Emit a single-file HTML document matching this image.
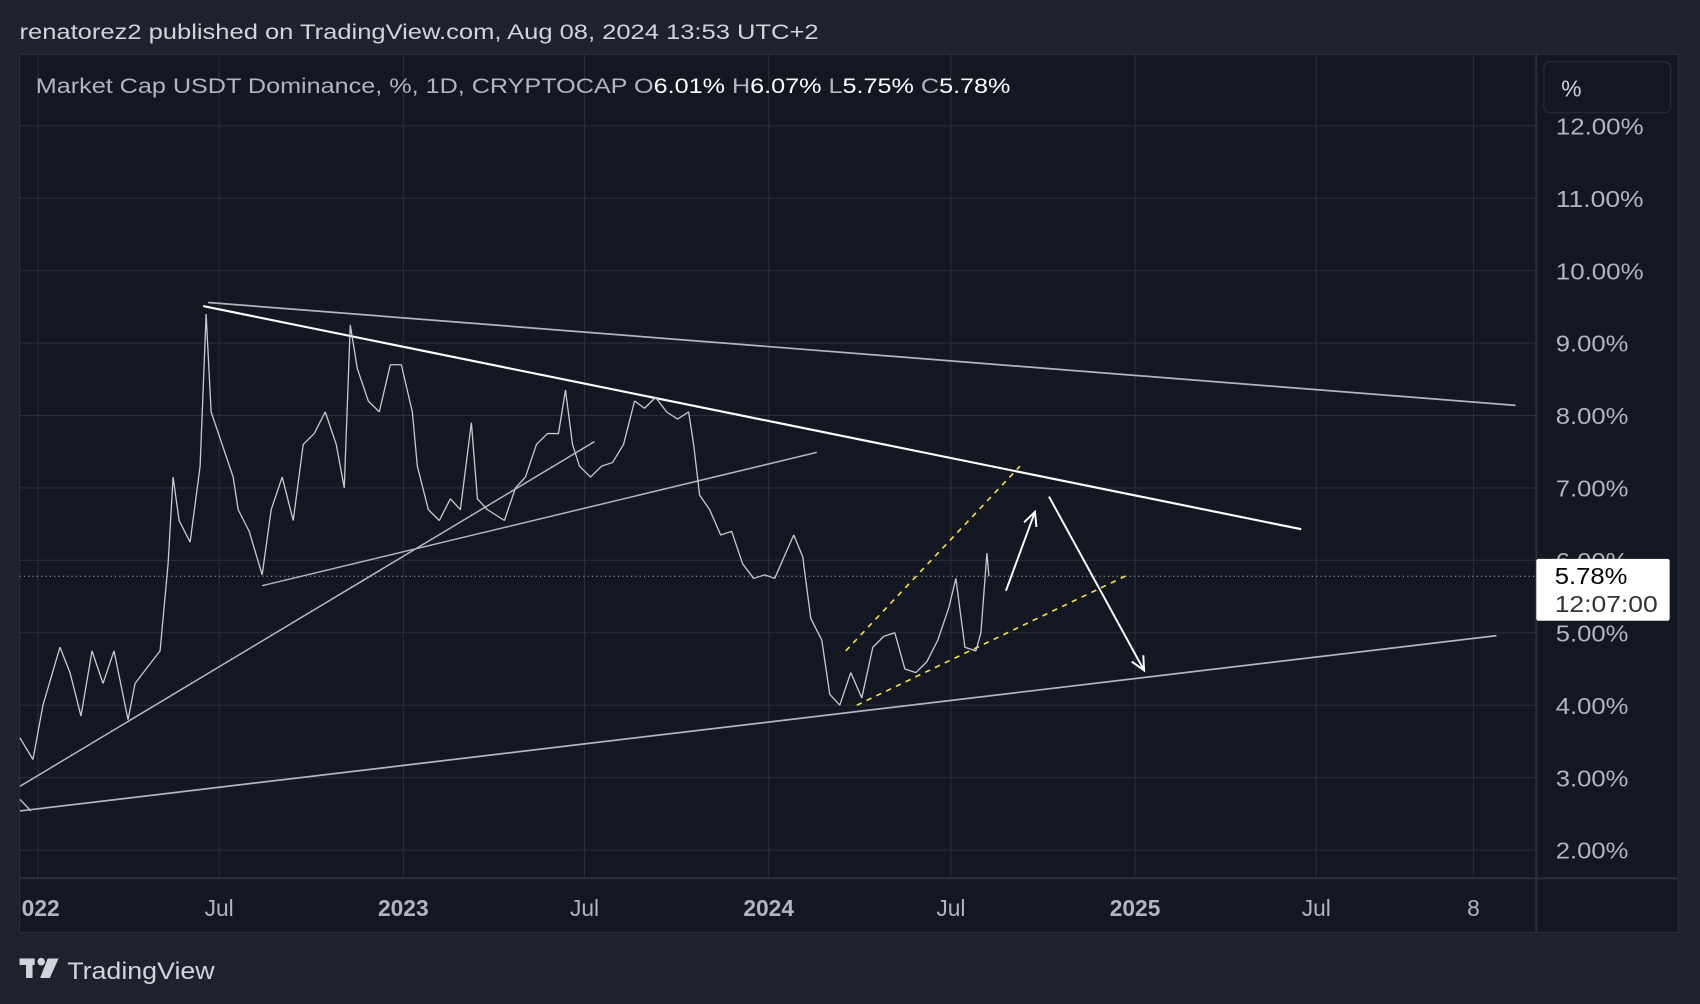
<!DOCTYPE html>
<html><head><meta charset="utf-8"><style>
html,body{margin:0;padding:0;background:#1e222d;}
svg{display:block;font-family:"Liberation Sans",sans-serif;}
</style></head><body>
<svg id="c" width="1700" height="1004" viewBox="0 0 1568 926" preserveAspectRatio="none" xmlns="http://www.w3.org/2000/svg">
<rect x="0" y="0" width="1568" height="926" fill="#1e222d"/>
<rect x="18" y="50" width="1530" height="810" fill="#131722" stroke="#2a2e39"/>
<line x1="1417" y1="50" x2="1417" y2="860" stroke="#2a2e39" stroke-width="2"/>
<line x1="18" y1="810" x2="1548" y2="810" stroke="#2a2e39" stroke-width="2"/>
<g id="grid"></g>
<g id="draw"></g>
<g id="series"></g>
<g id="axes"></g>
<rect x="1418" y="51" width="129" height="58" fill="#131722"/>
<text x="18" y="36" fill="#d1d4dc" font-size="20" textLength="737" lengthAdjust="spacingAndGlyphs">renatorez2 published on TradingView.com, Aug 08, 2024 13:53 UTC+2</text>
<text x="33" y="86" font-size="20" fill="#b2b5be" textLength="899" lengthAdjust="spacingAndGlyphs">Market Cap USDT Dominance, %, 1D, CRYPTOCAP  O<tspan fill="#fff">6.01%</tspan>  H<tspan fill="#fff">6.07%</tspan>  L<tspan fill="#fff">5.75%</tspan>  C<tspan fill="#fff">5.78%</tspan></text>
<rect x="1424" y="57" width="117" height="47" rx="6" fill="#131722" stroke="#2a2e39"/>
<text x="1440" y="89" font-size="21" fill="#d1d4dc">%</text>
<g fill="#d1d4dc">
<rect x="18" y="884" width="14" height="6"/><rect x="24" y="884" width="6" height="18"/>
<circle cx="38" cy="887" r="3.5"/><path d="M44 884 L54 884 L46 902 L37 902 Z"/>
</g>
<text x="62" y="903" font-size="22" fill="#d1d4dc" textLength="136" lengthAdjust="spacingAndGlyphs">TradingView</text>
</svg>
<script>
const days=[-18,-5,5,22,32,43,54,65,76,90,97,108,122,130,135,141,152,162,168,173,184,195,200,211,224,233,244,255,265,276,287,298,306,312,319,330,341,352,363,374,379,390,401,412,422,433,439,449,466,477,487,498,509,520,527,534,541,552,563,574,585,596,606,617,628,639,650,655,661,671,682,693,704,715,726,736,747,755,764,772,783,791,801,812,823,834,845,856,866,877,888,899,910,917,926,937,942,948,950];
const values=[3.55,3.25,4.0,4.8,4.45,3.85,4.75,4.3,4.75,3.8,4.3,4.5,4.75,5.95,7.15,6.55,6.25,7.3,9.4,8.05,7.6,7.15,6.7,6.4,5.8,6.7,7.15,6.55,7.6,7.75,8.05,7.6,7.0,9.25,8.65,8.2,8.05,8.7,8.7,8.05,7.3,6.7,6.55,6.85,6.7,7.9,6.85,6.7,6.55,7.0,7.15,7.6,7.75,7.75,8.35,7.6,7.3,7.15,7.3,7.35,7.6,8.2,8.1,8.25,8.05,7.95,8.05,7.6,6.9,6.7,6.35,6.4,5.95,5.75,5.8,5.75,6.1,6.35,6.05,5.2,4.9,4.15,4.0,4.45,4.1,4.8,4.95,5.0,4.5,4.45,4.6,4.9,5.35,5.75,4.8,4.75,5.0,6.1,5.78];
const yTicks=[2,3,4,5,6,7,8,9,10,11,12];
const xTickDays=[0,181,365,546,730,912,1096,1277,1434];
const xTickLabels=["022","Jul","2023","Jul","2024","Jul","2025","Jul","8"];
const xTickBold=[true,false,true,false,true,false,true,false,false];
const lastValue=5.78;
const NS="http://www.w3.org/2000/svg";
const X=d=>35+d*0.9233, Y=v=>784-(v-2)*66.8;
function mk(tag,attrs,parent){const e=document.createElementNS(NS,tag);for(const k in attrs)e.setAttribute(k,attrs[k]);document.getElementById(parent).appendChild(e);return e;}
yTicks.forEach(v=>{
  const l=mk('line',{x1:18,x2:1417,y1:Y(v),y2:Y(v),stroke:'#2a2e39','stroke-width':1},'grid');
  
  
  const s=v.toFixed(2)+'%';
  const t=mk('text',{x:1435,y:Y(v)+8,'font-size':21,fill:'#b2b5be',textLength:s.length==6?81:67,lengthAdjust:'spacingAndGlyphs'},'axes');
  t.textContent=s;
  
  
});
xTickDays.forEach((d,i)=>{
  if(X(d)>18){const l=mk('line',{x1:X(d),x2:X(d),y1:50,y2:810,stroke:'#2a2e39','stroke-width':1},'grid');
  
  }
  const t=mk('text',{x:i==0?20:X(d),y:845,'font-size':21,fill:'#b2b5be','text-anchor':i==0?'start':'middle','font-weight':xTickBold[i]?'bold':'normal'},'axes');
  t.textContent=xTickLabels[i];
  
  
});
const pts=days.map((d,i)=>X(d)+','+Y(values[i])).join(' ');
const pl=mk('polyline',{points:pts,fill:'none',stroke:'#c8cad0','stroke-width':1.2,'stroke-linejoin':'bevel'},'series');


const trendLines=[
 [[170,9.56],[1476,8.14],'#b2b5be',1.6,''],
 [[165,9.51],[1262,6.43],'#ffffff',2,''],
 [[-18,2.54],[1457,4.96],'#b2b5be',1.6,''],
 [[-18,2.88],[556,7.64],'#b2b5be',1.4,''],
 [[224,5.65],[778,7.49],'#b2b5be',1.4,''],
 [[-18,2.7],[-7,2.54],'#b2b5be',1.4,''],
 [[807,4.75],[981,7.3],'#f5e13b',1.5,'5,5'],
 [[818,4.0],[1089,5.8],'#f5e13b',1.5,'5,5']
];
trendLines.forEach(t=>{
  const l=mk('line',{x1:X(t[0][0]),y1:Y(t[0][1]),x2:X(t[1][0]),y2:Y(t[1][1]),stroke:t[2],'stroke-width':t[3],'stroke-dasharray':t[4]},'draw');
  
  
});
const arrows=[[[967,5.58],[996,6.67]],[[1010,6.88],[1105,4.48]]];
arrows.forEach(a=>{
  const x1=X(a[0][0]),y1=Y(a[0][1]),x2=X(a[1][0]),y2=Y(a[1][1]);
  const ang=Math.atan2(y2-y1,x2-x1),h=14;
  const p=`M${x1},${y1}L${x2},${y2}M${x2-h*Math.cos(ang-0.45)},${y2-h*Math.sin(ang-0.45)}L${x2},${y2}L${x2-h*Math.cos(ang+0.45)},${y2-h*Math.sin(ang+0.45)}`;
  const e=mk('path',{d:p,stroke:'#fff','stroke-width':1.8,fill:'none'},'draw');
  
  
});
const dl=mk('line',{x1:18,x2:1417,y1:Y(lastValue),y2:Y(lastValue),stroke:'#b2b5be','stroke-width':1,'stroke-dasharray':'1,3'},'axes');


const bx=mk('rect',{x:1417,y:Y(lastValue)-16,width:123,height:57,rx:2,fill:'#ffffff'},'axes');


const t1=mk('text',{x:1434,y:Y(lastValue)+7,'font-size':21,fill:'#000',textLength:67,lengthAdjust:'spacingAndGlyphs'},'axes');
t1.textContent=lastValue.toFixed(2)+'%';


const t2=mk('text',{x:1434,y:Y(lastValue)+33,'font-size':21,fill:'#333',textLength:95,lengthAdjust:'spacingAndGlyphs'},'axes');
t2.textContent='12:07:00';


</script>
</body></html>
